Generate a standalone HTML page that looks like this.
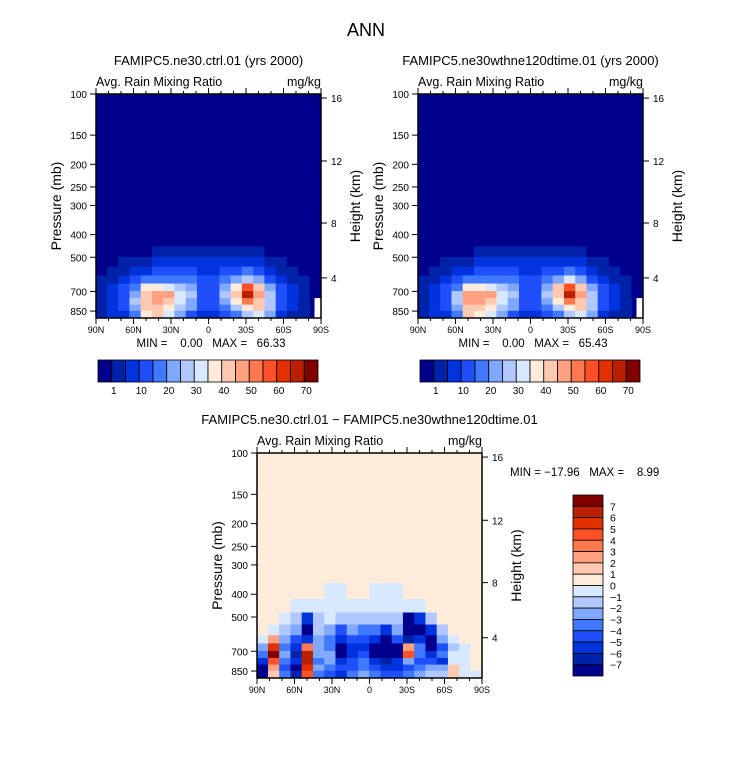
<!DOCTYPE html>
<html><head><meta charset="utf-8"><style>
body{margin:0;background:#fff;}
svg{display:block;font-family:"Liberation Sans",sans-serif;}
.pre{white-space:pre;}
</style></head><body>
<svg id="chart" width="733" height="773" viewBox="0 0 733 773"></svg>
<script>
// ---- data ----
const latCenters = [85.5,76.5,67.5,58.5,49.5,40.5,31.5,22.5,13.5,4.5,-4.5,-13.5,-22.5,-31.5,-40.5,-49.5,-58.5,-67.5,-76.5,-85.5];
const pEdgesAB = [400,450,500,550,600,650,700,750,800,850,910];
const ctrlValues = [
[0,0,0,0,0,0,0,0,0,0,0,0,0,0,0,0,0,0,0,0],
[0,0,0,0,0,2,2,3,3,3,3,3,3,3,2,0,0,0,0,0],
[0,0,2,3,4,5,6,7,7,6,6,7,7,8,6,4,2,0,0,0],
[0,2,4,6,8,10,11,12,11,9,9,12,13,15,12,8,4,2,0,0],
[2,4,7,11,15,18,18,17,15,12,12,16,22,28,22,14,7,4,1,0],
[3,6,10,18,35,36,30,27,22,14,14,24,38,55,40,24,10,5,2,0],
[4,7,12,24,44,46,45,32,27,14,14,26,42,66,48,28,12,6,2,0],
[4,7,12,25,44,46,40,30,24,12,12,24,38,52,44,28,12,6,2,-1],
[3,6,10,22,42,42,37,25,20,10,10,18,28,38,40,25,10,5,2,-1],
[3,5,8,18,38,40,32,20,14,7,7,12,18,28,34,22,8,4,1,-1]];
const expValues = [
[0,0,0,0,0,0,0,0,0,0,0,0,0,0,0,0,0,0,0,0],
[0,0,0,0,0,2,2,3,3,3,3,3,3,4,2,0,0,0,0,0],
[0,0,2,3,4,5,6,7,7,6,6,7,8,9,6,4,2,0,0,0],
[0,2,4,6,8,10,11,12,11,9,9,12,14,16,12,8,4,2,0,0],
[2,4,7,11,15,18,18,17,15,12,12,16,22,30,22,14,7,4,1,0],
[3,6,10,18,36,38,30,27,22,14,14,24,40,58,40,24,10,5,2,0],
[4,7,12,25,46,45,45,32,27,14,14,26,44,65,48,28,12,6,2,0],
[4,7,12,25,45,46,40,30,24,12,12,24,38,54,44,28,12,6,2,-1],
[3,6,10,22,43,42,37,25,20,10,10,18,28,38,40,25,10,5,2,-1],
[3,5,8,18,40,38,32,20,14,7,7,12,18,28,34,22,8,4,1,-1]];
const pEdgesDiff = [360,420,480,540,600,650,700,750,800,850,910];
const diffValues = [
[0,0,0,0,0,0,-0.5,-0.5,0,0,-0.5,-0.5,-0.5,0,0,0,0,0,0,0],
[0,0,0,-0.5,-0.5,-0.5,-0.5,-0.5,-0.5,-0.5,-0.5,-0.5,-0.5,-0.5,-0.5,0,0,0,0,0],
[0,0,-0.5,-1.5,-6,-1.5,-0.5,-2,-1.5,-2,-1.5,-2,-2,-8,-6,-1.5,0,0,0,0],
[0,-1,-2,-3,-7.5,-2,-3,-5,-3,-4,-4,-6,-3,-8,-7.5,-6,-2,0,0,0],
[-1,2,-3,-5,-6,-3,-4,-6,-5,-5,-6,-8,-5,-7,-6,-8,-3,-1,0,0],
[-3,5,-4,-6,3,-3,-4,-7.5,-6,-6,-8,-8,-7.5,2,-4,-8,-5,-2,-0.5,0],
[-4,7,-3,-7,6,-3,-3,-8,-6,-5,-8,-8,-8,4,-4,-6,-4,-1,-0.5,0],
[-6,4,-4,-6,6,-4,-3,-6,-5,-4,-6,-7,-6,-3,-5,-5,-6,-1,-0.5,0],
[-7.5,2,-5,-8,5,-3,-4,-5,-5,-4,-5,-6,-6,-5,-4,-3,-3,1,-0.5,0],
[-8,1,-4,-7,4,-4,-5,-6,-4,-3,-4,-5,-5,-4,-3,-2,-2,1,-0.5,-0.5]];
const levelsAB = [1,5,10,15,20,25,30,35,40,45,50,55,60,65,70];
const levelsDiff = [-7,-6,-5,-4,-3,-2,-1,0,1,2,3,4,5,6,7];
const cbLabelsAB = ["1","10","20","30","40","50","60","70"];
const cbLabelsDiff = ["7","6","5","4","3","2","1","0","\u22121","\u22122","\u22123","\u22124","\u22125","\u22126","\u22127"];
const xTickLabels = ["90N","60N","30N","0","30S","60S","90S"];
const xTickLats = [90,60,30,0,-30,-60,-90];
const pTicks = [100,150,200,250,300,400,500,700,850];
const hTicks = [16,12,8,4];
const hTickFrac = [0.018,0.299,0.576,0.821];
const palette = ["#00008c","#0022a8","#0033dd","#1f4ff8","#4078ff","#80a8ff","#b0c8ff","#d8e8ff","#ffebd9","#ffc8b0","#ffa080","#ff7850","#ff5028","#e03000","#b82000","#800000"];

const NS="http://www.w3.org/2000/svg";
const svg=document.getElementById('chart');
function mk(tag,attrs,parent){const e=document.createElementNS(NS,tag);for(const k in attrs)e.setAttribute(k,attrs[k]);(parent||svg).appendChild(e);return e;}
function txt(x,y,s,size,anchor,parent,rot){const t=mk('text',{x:x,y:y,'font-size':size,'text-anchor':anchor||'start',fill:'#000'},parent);if(rot)t.setAttribute('transform','rotate(-90 '+x+' '+y+')');t.textContent=s;return t;}
function colorIdx(v,levels){let i=0;for(const l of levels)if(v>=l)i++;return i;}

function panel(x0,y0,W,H,values,pEdges,levels,bg,name,title){
  const g=mk('g',{});
  
  
  const xs=lat=>x0+(90-lat)/180*W;
  const b=H/Math.log(910/100);
  const ys=p=>y0+b*Math.log(p/100);
  mk('rect',{x:x0,y:y0,width:W,height:H,fill:bg},g);
  const dx=9/180*W;
  for(let r=0;r<values.length;r++){
    for(let c=0;c<latCenters.length;c++){
      const v=values[r][c];
      let xa=xs(latCenters[c])-dx/2, w=dx;
      const ya=ys(pEdges[r]), yb=ys(pEdges[r+1]);
      const missing = (v===-1 && levels===levelsAB);
      if(missing){xa+=dx*0.45;w=dx*0.55;}
      const fill = missing ? '#fff' : palette[colorIdx(v,levels)];
      const cell=mk('rect',{x:xa-0.3,y:ya-0.3,width:w+0.6,height:yb-ya+0.6,fill:fill},g);
      
      
    }
  }
  mk('rect',{x:x0,y:y0,width:W,height:H,fill:'none',stroke:'#000','stroke-width':1.5},g);
  for(let lat=90;lat>=-90;lat-=10){
    const major=lat%30===0;
    const L=major?6:3;
    mk('line',{x1:xs(lat),x2:xs(lat),y1:y0,y2:y0-L,stroke:'#000'},g);
    mk('line',{x1:xs(lat),x2:xs(lat),y1:y0+H,y2:y0+H+L,stroke:'#000'},g);
  }
  xTickLats.forEach((lat,i)=>{const t=txt(xs(lat),y0+H+15,xTickLabels[i],9,'middle',g);});
  pTicks.forEach(p=>{mk('line',{x1:x0,x2:x0-6,y1:ys(p),y2:ys(p),stroke:'#000'},g);const t=txt(x0-9,ys(p)+4,String(p),10,'end',g);});
  hTicks.forEach((h,i)=>{const y=y0+hTickFrac[i]*H;mk('line',{x1:x0+W,x2:x0+W+6,y1:y,y2:y,stroke:'#000'},g);const t=txt(x0+W+10,y+4,String(h),10,'start',g);});
  const yl=txt(x0-35,y0+H/2,'Pressure (mb)',14,'middle',g,true);
  const hl=txt(x0+W+39,y0+H/2,'Height (km)',14,'middle',g,true);
  const st=txt(x0,y0-8,'Avg. Rain Mixing Ratio',12.5,'start',g);
  const u=txt(x0+W,y0-8,'mg/kg',12.5,'end',g);
  const tt=txt(x0+W/2,y0-29,title,13,'middle',g);
}
function hbar(x0,y0,W,H,name){
  const g=mk('g',{});
  
  
  const bw=W/palette.length;
  palette.forEach((c,i)=>{const r=mk('rect',{x:x0+i*bw,y:y0,width:bw,height:H,fill:c,stroke:'#000','stroke-width':0.8},g);});
  cbLabelsAB.forEach((s,i)=>{const t=txt(x0+(1+2*i)*bw+2,y0+H+12,s,10,'middle',g);});
}
function vbar(x0,y0,W,H,name){
  const g=mk('g',{});
  
  
  const bh=H/palette.length;
  palette.slice().reverse().forEach((c,i)=>{const r=mk('rect',{x:x0,y:y0+i*bh,width:W,height:bh,fill:c,stroke:'#000','stroke-width':0.8},g);});
  cbLabelsDiff.forEach((s,i)=>{const t=txt(x0+W+7,y0+(i+1)*bh+4,s,10.5,'start',g);});
}

const main=txt(366,36,'ANN',18,'middle');


panel(96,94,225,224,ctrlValues,pEdgesAB,levelsAB,palette[0],'ctrl-panel','FAMIPC5.ne30.ctrl.01 (yrs 2000)');
panel(418,94,225,224,expValues,pEdgesAB,levelsAB,palette[0],'exp-panel','FAMIPC5.ne30wthne120dtime.01 (yrs 2000)');
panel(257,453,225,225,diffValues,pEdgesDiff,levelsDiff,palette[8],'diff-panel','FAMIPC5.ne30.ctrl.01 \u2212 FAMIPC5.ne30wthne120dtime.01');
const m1=txt(211,347,'MIN =    0.00   MAX =   66.33',11.5,'middle');


m1.setAttribute('class','pre');
const m2=txt(533,347,'MIN =    0.00   MAX =   65.43',11.5,'middle');


m2.setAttribute('class','pre');
const m3=txt(510,476,'MIN = \u221217.96   MAX =    8.99',11.5,'start');


m3.setAttribute('class','pre');
hbar(98,360,220,22,'ctrl-colorbar');
hbar(420,360,220,22,'exp-colorbar');
vbar(573,495,30,181,'diff-colorbar');
</script>
</body></html>
